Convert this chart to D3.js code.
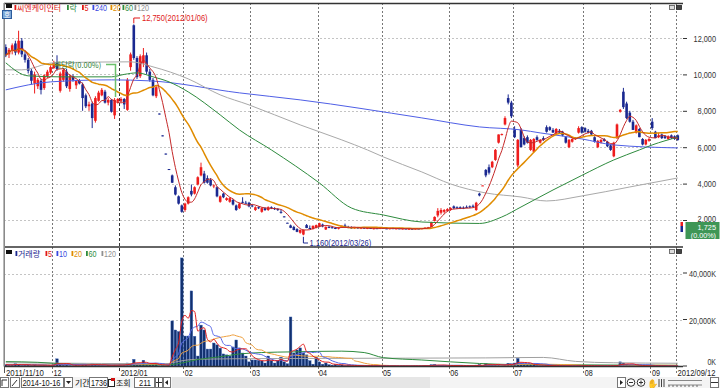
<!DOCTYPE html>
<html>
<head>
<meta charset="utf-8">
<script src="https://cdn.jsdelivr.net/npm/d3@7/dist/d3.min.js"></script>
<style>
  body { margin: 0; background: #fff; }
  text { font-family: "Liberation Sans", "DejaVu Sans", sans-serif; }
  text.kr { font-family: "Noto Sans CJK KR", sans-serif; }
</style>
</head>
<body>
<div id="chart"></div>
<script>
///////////////////////////////////////////////////////////////////////////
////////////////////////////////// Data ///////////////////////////////////
// daily candles [open, high, low, close], 2011/11/10 .. 2012/09/12
var candles = [
  [11500,11650,10950,11050],[11100,11450,10900,11350],[11300,11700,11100,11600],[11700,11850,11050,11200],
  [11200,12400,11100,11850],[11850,12000,10950,11100],[11100,11300,10650,10800],[10800,10900,10050,10200],
  [10200,10300,9450,9650],[9500,10150,8950,10000],[9350,9800,9200,9700],[9650,9750,8900,9150],
  [9250,10000,9150,9950],[9900,10250,9800,10150],[10100,10500,10000,10400],
  [10350,10750,10300,10600],[10650,11050,10200,10300],[9100,10150,9000,10050],[9700,10350,9600,10250],
  [10150,10300,9250,9350],[9200,10000,9050,9900],[9900,10000,9600,9700],[9400,9700,9200,9650],
  [9650,9750,9450,9500],[9450,9550,8000,8700],[8850,8950,8150,8250],[8250,8500,8000,8350],
  [8400,8500,7050,7600],[7450,8800,7350,8700],[8550,9100,8500,9000],[8850,9250,8800,9150],
  [9050,9150,8400,8450],[8450,8700,8300,8600],[8600,8650,7900,7950],[7750,8700,7550,8600],
  [8500,8700,8400,8650],
  [8550,8750,8400,8650],[8650,8700,8100,8350],[8050,9800,8000,9700],[10400,11200,10200,11100],
  [12700,12750,10800,10900],[10900,11000,9750,9850],[9900,11100,9800,11000],[10600,11450,10400,11050],
  [11050,11200,10000,10150],[10150,10300,9600,9700],[9700,9800,8800,8850],[8800,9400,8700,9300],
  [7850,7850,7800,7800],[6650,6650,6600,6600],[5650,5650,5600,5600],[4800,4800,4750,4750],
  [4450,4500,4030,4050],[3800,3900,3350,3400],[3300,3350,2850,2900],[2800,2850,2400,2450],
  [2550,2950,2450,2900],[2900,3300,2850,3250],[3600,3950,3300,3400],[3450,3850,3400,3800],
  [3950,4400,3900,4350],[4450,5150,4400,4900],[4550,4700,4000,4050],[4300,4450,4000,4050],
  [4200,4300,3850,3900],[3850,3950,3750,3900],[3800,3850,3250,3300],[3000,3350,2950,3300],
  [3450,3500,3200,3250],[3100,3250,3050,3200],[3000,3250,2950,3200],[3100,3150,2800,2850],
  [2800,2850,2500,2550],[2650,2950,2600,2900],[3000,3250,2900,2950],[2950,3050,2900,2940],
  [2950,3000,2700,2750],
  [2800,2850,2700,2750],[2550,2750,2500,2700],[2700,2750,2600,2650],[2450,2700,2400,2650],
  [2650,2700,2500,2550],[2550,2750,2500,2700],[2700,2750,2600,2650],[2650,2700,2550,2600],
  [2600,2650,2500,2550],[2450,2550,2350,2400],[2200,2200,2150,2170],[1850,1850,1830,1840],
  [1700,1750,1550,1570],[1620,1680,1430,1450],[1500,1550,1330,1350],[1300,1480,1250,1450],
  [1200,1480,1160,1450],[1720,1780,1550,1560],[1560,1700,1500,1520],[1500,1700,1480,1680],
  [1560,1750,1540,1720],
  [1620,1850,1600,1820],[1750,1800,1600,1650],[1480,1650,1450,1620],[1620,1680,1550,1600],
  [1600,1650,1540,1560],[1560,1620,1500,1520],[1520,1600,1480,1580],[1580,1700,1560,1680],
  [1700,1800,1600,1620],[1620,1680,1550,1600],[1600,1650,1520,1540],[1540,1620,1520,1600],
  [1600,1620,1520,1540],[1540,1600,1500,1580],[1580,1620,1520,1530],[1530,1580,1500,1560],
  [1560,1600,1510,1520],[1520,1560,1480,1550],[1550,1600,1520,1530],[1530,1580,1500,1570],
  [1570,1600,1520,1540],[1540,1580,1500,1520],[1520,1560,1480,1550],[1550,1580,1510,1520],
  [1520,1560,1490,1540],[1540,1570,1500,1510],[1510,1550,1480,1530],[1530,1560,1500,1510],
  [1510,1540,1470,1520],[1520,1560,1490,1500],[1500,1540,1470,1530],[1530,1560,1500,1510],
  [1510,1560,1490,1550],[1550,1600,1520,1580],[1550,1620,1530,1600],[1620,1900,1600,1880],
  [1950,2200,1920,2170],[2250,2650,2150,2500],[2400,2650,2300,2550],[2450,2600,2350,2550],
  [2500,2650,2450,2600],
  [2550,2700,2500,2650],[2750,2800,2600,2650],[2700,2750,2600,2650],[2700,2750,2600,2620],
  [2680,2750,2600,2650],[2720,2800,2650,2680],[2750,2800,2650,2700],[2780,2850,2700,2730],
  [2550,3000,2500,2950],[3450,3500,3300,3350],[3880,3900,3880,3900],[4750,4800,4350,4450],
  [4900,5050,4500,4600],[4900,5250,4850,5200],[5300,5900,5250,5850],[6250,6700,6200,6700],
  [6700,6750,6650,6720],[7250,7700,7200,7600],[8700,8900,8350,8450],[8450,8550,7600,7700],
  [7000,7150,6500,6550],[5000,6450,4900,6400],[6950,7050,6000,6000],[6500,6600,6100,6150],
  [6550,6650,6200,6250],[5850,6450,5800,6400],[5750,6500,5700,6450],[6550,6650,6350,6400],
  [6250,6450,6200,6400],[6500,6600,6350,6400],[7100,7200,6800,6850],[7100,7150,6900,6950],
  [6950,7050,6800,6800],[6750,7050,6700,7000],[6900,7000,6750,6800],[6850,6900,6600,6650],
  [6550,6600,6200,6250],[6000,6450,5950,6400],[6300,6500,6250,6450],[6450,6550,6400,6500],
  [6800,7150,6750,7050],[7100,7150,6750,6800],
  [7050,7100,6800,6850],[6900,7000,6750,6800],[6900,6950,6650,6700],[6550,6600,6250,6300],
  [6000,6400,5950,6350],[6250,6450,6200,6400],[6450,6500,6300,6350],[6300,6350,6000,6050],
  [6100,6150,5800,5850],[5500,6300,5450,6250],[6500,7300,6450,7250],[7950,8100,7900,8050],
  [9050,9260,8100,8200],[8400,8500,7550,7600],[7900,8000,7350,7400],[7400,7500,6950,6950],
  [6800,7250,6750,7200],[7000,7050,6550,6550],[6450,6500,6100,6150],[6150,6450,6100,6400],
  [6350,6500,6300,6450],[7400,7600,6950,7050],[6850,6900,6500,6500],[6550,6800,6500,6650],
  [6700,6750,6450,6500],[6600,6650,6450,6500],[6450,6650,6400,6600],[6650,6700,6450,6500],
  [6600,6650,6400,6450],[6650,6700,6350,6400]
];
// daily volume, thousands of shares
var volumes = [
  800,600,700,1200,900,500,600,700,500,800,400,500,600,400,500,
  900,3300,700,600,800,500,400,600,500,900,700,500,1200,800,600,500,400,600,500,700,600,
  600,700,1500,1400,3100,1200,1000,2700,900,800,1000,1200,300,400,300,500,19600,15700,15000,46700,
  13100,13100,32500,13000,4500,17800,15700,7500,7500,10100,9300,7900,5400,5000,4500,8400,11400,8000,5800,4500,2000,
  2800,2800,2600,2400,1500,4500,2500,1500,2500,4000,2000,1200,21300,5800,7100,8000,5800,5000,2500,1000,4000,
  2000,1000,1500,800,600,900,500,700,400,500,400,300,400,300,300,400,300,250,300,250,
  300,250,200,300,250,200,300,250,200,300,350,250,300,400,300,800,900,600,500,400,350,
  400,500,400,300,350,300,400,350,600,900,200,1200,900,700,900,800,300,600,1400,1200,
  1500,3500,1500,1000,800,900,700,500,400,400,500,400,300,300,300,400,300,300,200,300,500,400,
  400,300,300,300,400,300,300,300,400,500,400,2000,1500,1000,600,500,400,400,300,300,300,400,300,300,250,250,200,250,200,200
];
// long moving averages: [day index, value]
var ma60 = [[0,10635],[7,9920],[17,9865],[33,9865],[37,10000],[41,10085],[46,9865],[51,9590],[57,9040],[67,7775],[73,6950],
  [83,5850],[98,4035],[108,2660],[118,2275],[130,1890],[148,1810],[155,2165],[161,2715],[171,3650],[180,4450],[190,5300],
  [198,5850],[202,6125],[210,6550]];
var ma120 = [[0,10250],[5,10250],[15,10635],[39,10690],[46,10415],[57,9755],[67,8875],[76,8325],[92,7225],[105,6400],
  [113,5850],[118,5465],[130,4640],[139,3980],[150,3485],[161,3265],[169,3045],[180,3320],[195,3815],[210,4310]];
var ma240 = [[0,9150],[14,9590],[33,9700],[45,9645],[73,8985],[92,8600],[130,7610],[148,7115],[161,6950],[167,6785],
  [180,6455],[190,6125],[210,5960]];
var volMa60 = [[0,2100],[10,1800],[20,1000],[35,700],[50,650],[55,1500],[60,3000],[67,4200],[73,5400],[80,6000],[90,6300],
  [105,6600],[112,6000],[118,3800],[130,2800],[148,1300],[160,800],[180,700],[210,500]];
var volMa120 = [[0,1600],[30,1300],[50,1200],[54,2200],[58,3000],[70,3300],[100,3500],[150,3700],[168,3900],[178,2200],
  [190,1600],[210,1400]];

var tickIdx = [0, 15, 36, 56, 77, 98, 118, 139, 159, 181, 202, 210];
var tickLabels = ["2011/11/10", "12", "2012/01", "02", "03", "04", "05", "06", "07", "08", "09", "2012/09/12"];
var priceTicks = [2000, 4000, 6000, 8000, 10000, 12000];
var volTicks = [0, 20000, 40000];

///////////////////////////////////////////////////////////////////////////
//////////////////////////////// Set up ///////////////////////////////////
var width = 720, height = 388;
var plotL = 4, plotR = 683, plotTop = 3, sep = 247, bot = 366.5;

var svg = d3.select("#chart").append("svg")
  .attr("width", width).attr("height", height)
  .style("display", "block");

var x = d3.scaleLinear().domain([0, 210]).range([4, 676]);
var yP = d3.scaleLinear().domain([2000, 12000]).range([220, 38]);
var yV = d3.scaleLinear().domain([0, 40000]).range([bot, 273.5]);

var UP = "#ee1c1c", DOWN = "#1a2890";

function movingAvg(vals, n) {
  return vals.map(function(v, i) {
    return d3.mean(vals.slice(Math.max(0, i - n + 1), i + 1));
  });
}
var closes = candles.map(function(d) { return d[3]; });
var ma5 = movingAvg(closes, 5).map(function(v, i) { return [i, v]; });
var ma20 = movingAvg(closes, 20).map(function(v, i) { return [i, v]; });
var vma5 = movingAvg(volumes, 5).map(function(v, i) { return [i, v]; });
var vma10 = movingAvg(volumes, 10).map(function(v, i) { return [i, v]; });
var vma20 = movingAvg(volumes, 20).map(function(v, i) { return [i, v]; });

// narrow bitmap-like digits: squeeze each label to the width the reference uses
var charW = { ",": 2.5, "/": 3, "(": 2.6, ")": 2.6, ".": 2, "%": 6, "K": 4.6, "-": 3, " ": 2.5 };
function estW(s) { return d3.sum(s.split(""), function(c) { return charW[c] !== undefined ? charW[c] : 4; }); }

var defs = svg.append("defs");
defs.append("clipPath").attr("id", "clipP").append("rect")
  .attr("x", plotL).attr("y", plotTop).attr("width", plotR - plotL).attr("height", sep - plotTop);
defs.append("clipPath").attr("id", "clipV").append("rect")
  .attr("x", plotL).attr("y", sep).attr("width", plotR - plotL).attr("height", bot - sep);

///////////////////////////////////////////////////////////////////////////
//////////////////////////////// Grid /////////////////////////////////////
svg.append("g").selectAll("line").data(priceTicks).enter().append("line")
  .attr("x1", plotL).attr("x2", plotR)
  .attr("y1", function(d) { return Math.round(yP(d)) + 0.5; })
  .attr("y2", function(d) { return Math.round(yP(d)) + 0.5; })
  .attr("stroke", "#c4c4c4").attr("stroke-dasharray", "2,2");
svg.append("g").selectAll("line").data(volTicks.slice(1)).enter().append("line")
  .attr("x1", plotL).attr("x2", plotR)
  .attr("y1", function(d) { return Math.round(yV(d)) + 0.5; })
  .attr("y2", function(d) { return Math.round(yV(d)) + 0.5; })
  .attr("stroke", "#c4c4c4").attr("stroke-dasharray", "2,2");

svg.append("g").selectAll("line").data(tickIdx.slice(1)).enter().append("line")
  .attr("x1", function(d) { return Math.round(x(d)) + 0.5; })
  .attr("x2", function(d) { return Math.round(x(d)) + 0.5; })
  .attr("y1", plotTop).attr("y2", 373)
  .attr("stroke", function(d) { return d === 36 ? "#333" : "#777"; })
  .attr("stroke-dasharray", function(d) { return d === 36 ? "3,2" : "2,2"; });

///////////////////////////////////////////////////////////////////////////
//////////////////////////////// Candles //////////////////////////////////
var cg = svg.append("g").attr("clip-path", "url(#clipP)");
var cnd = cg.selectAll("g.c").data(candles).enter().append("g").attr("class", "c");
cnd.append("line")
  .attr("x1", function(d, i) { return x(i) + 1.8; })
  .attr("x2", function(d, i) { return x(i) + 1.8; })
  .attr("y1", function(d) { return yP(d[1]); })
  .attr("y2", function(d) { return yP(d[2]); })
  .attr("stroke", function(d) { return d[3] >= d[0] ? UP : DOWN; })
  .attr("stroke-width", 1);
cnd.append("rect")
  .attr("x", function(d, i) { return x(i) + 0.5; })
  .attr("width", 2.6)
  .attr("y", function(d) { return yP(Math.max(d[0], d[3])); })
  .attr("height", function(d) { return Math.max(1, Math.abs(yP(d[0]) - yP(d[3]))); })
  .attr("fill", function(d) { return d[3] >= d[0] ? UP : DOWN; });

var lineS = d3.line().curve(d3.curveMonotoneX).x(function(d) { return x(d[0]) + 1.8; }).y(function(d) { return yP(d[1]); });
cg.append("path").attr("d", lineS(ma240)).attr("fill", "none").attr("stroke", "#4f5fe6").attr("stroke-width", 1);
cg.append("path").attr("d", lineS(ma120)).attr("fill", "none").attr("stroke", "#a9a9a9").attr("stroke-width", 1);
cg.append("path").attr("d", lineS(ma60)).attr("fill", "none").attr("stroke", "#2e8b3e").attr("stroke-width", 1);
cg.append("path").attr("d", lineS(ma20)).attr("fill", "none").attr("stroke", "#e08c00").attr("stroke-width", 1.5);
cg.append("path").attr("d", lineS(ma5)).attr("fill", "none").attr("stroke", "#c42828").attr("stroke-width", 1);

///////////////////////////////////////////////////////////////////////////
//////////////////////////////// Volume ///////////////////////////////////
var vg = svg.append("g").attr("clip-path", "url(#clipV)");
vg.selectAll("rect").data(volumes).enter().append("rect")
  .attr("x", function(d, i) { return x(i) + 0.5; })
  .attr("width", 2.6)
  .attr("y", function(d) { return yV(d); })
  .attr("height", function(d) { return Math.max(1, bot - yV(d)); })
  .attr("fill", "#12306e").attr("stroke", "#3a64b8").attr("stroke-width", 0.4);
var lineV = d3.line().curve(d3.curveMonotoneX).x(function(d) { return x(d[0]) + 1.8; }).y(function(d) { return yV(d[1]); });
vg.append("path").attr("d", lineV(volMa120)).attr("fill", "none").attr("stroke", "#a0a0a0");
vg.append("path").attr("d", lineV(volMa60)).attr("fill", "none").attr("stroke", "#2e8b3e");
vg.append("path").attr("d", lineV(vma20)).attr("fill", "none").attr("stroke", "#eea040");
vg.append("path").attr("d", lineV(vma10)).attr("fill", "none").attr("stroke", "#5868e6");
vg.append("path").attr("d", lineV(vma5)).attr("fill", "none").attr("stroke", "#e02020");

///////////////////////////////////////////////////////////////////////////
//////////////////////////////// Frame ////////////////////////////////////
svg.append("line").attr("x1", plotL).attr("x2", plotR).attr("y1", 3.5).attr("y2", 3.5).attr("stroke", "#333").attr("stroke-width", 1.5);
svg.append("line").attr("x1", plotL).attr("x2", plotR).attr("y1", sep).attr("y2", sep).attr("stroke", "#333").attr("stroke-width", 1.3);
svg.append("line").attr("x1", plotL).attr("x2", plotR).attr("y1", bot).attr("y2", bot).attr("stroke", "#333").attr("stroke-width", 1.3);
svg.append("line").attr("x1", 4.2).attr("x2", 4.2).attr("y1", 3).attr("y2", bot).attr("stroke", "#8a8a8a").attr("stroke-width", 1.6);

// right axes
var ra = svg.append("g");
ra.selectAll("line.tp").data(priceTicks).enter().append("line")
  .attr("x1", 683).attr("x2", 687)
  .attr("y1", function(d) { return yP(d) + 0.5; }).attr("y2", function(d) { return yP(d) + 0.5; })
  .attr("stroke", "#333");
ra.selectAll("text.tp").data(priceTicks).enter().append("text")
  .attr("x", 716).attr("y", function(d) { return yP(d) + (d === 2000 ? 1.5 : 3.5); })
  .attr("text-anchor", "end").attr("font-size", 9).attr("fill", "#333")
  .text(function(d) { return d3.format(",")(d); });
ra.selectAll("line.tv").data(volTicks).enter().append("line")
  .attr("x1", 683).attr("x2", 687)
  .attr("y1", function(d) { return yV(d) - 0.5; }).attr("y2", function(d) { return yV(d) - 0.5; })
  .attr("stroke", "#333");
ra.selectAll("text.tv").data(volTicks).enter().append("text")
  .attr("x", 716).attr("y", function(d) { return yV(d) + (d === 0 ? -1.5 : 3.5); })
  .attr("text-anchor", "end").attr("font-size", 9).attr("fill", "#333")
  .text(function(d) { return d3.format(",")(d) + "K"; });

// current price box
svg.append("rect").attr("x", 680.5).attr("y", 222).attr("width", 2.5).attr("height", 4).attr("fill", UP);
svg.append("rect").attr("x", 680.5).attr("y", 226).attr("width", 2.5).attr("height", 6).attr("fill", DOWN);
svg.append("rect").attr("x", 685.5).attr("y", 222).attr("width", 34).attr("height", 17).attr("fill", "#3e9656");
svg.append("text").attr("x", 716).attr("y", 229.5).attr("text-anchor", "end").attr("font-size", 7.5).attr("fill", "#fff").text("1,725");
svg.append("text").attr("x", 716).attr("y", 238).attr("text-anchor", "end").attr("font-size", 7.5).attr("fill", "#fff").text("(0.00%)");

// x axis labels
svg.append("g").selectAll("text").data(tickIdx).enter().append("text")
  .attr("x", function(d, i) { return x(d) + (i === 0 ? 2 : 1.5); })
  .attr("y", 375.5).attr("font-size", 9.5).attr("fill", "#222")
  .text(function(d, i) { return tickLabels[i]; });
svg.append("line").attr("x1", 4.5).attr("x2", 4.5).attr("y1", bot).attr("y2", 373).attr("stroke", "#555");

///////////////////////////////////////////////////////////////////////////
/////////////////////////////// Legends ///////////////////////////////////
function legend(y, items) {
  var g = svg.append("g");
  g.append("rect").attr("x", 6).attr("y", y - 4.5).attr("width", 6).attr("height", 4).attr("fill", "#111");
  items.forEach(function(it) {
    g.append("rect").attr("x", it.x - 2.5).attr("y", y - 3.5).attr("width", 1.8).attr("height", 5).attr("fill", it.c);
    g.append("text").attr("class", it.kr ? "kr" : null).attr("x", it.x).attr("y", y + 2.5)
      .attr("font-size", it.kr ? 8 : 9).attr("fill", it.c).text(it.t);
  });
}
legend(8.5, [
  { t: "씨엔케이인터", c: "#e01818", x: 17, kr: true },
  { t: "락", c: "#2e8b3e", x: 69.5, kr: true },
  { t: "5", c: "#e01818", x: 84.5 },
  { t: "240", c: "#3848e0", x: 95 },
  { t: "20", c: "#e08c00", x: 113 },
  { t: "60", c: "#2e8b3e", x: 125 },
  { t: "120", c: "#909090", x: 137 }
]);
legend(254.5, [
  { t: "거래량", c: "#1a2890", x: 18, kr: true },
  { t: "5", c: "#e01818", x: 48 },
  { t: "10", c: "#3848e0", x: 59 },
  { t: "20", c: "#e08c00", x: 74 },
  { t: "60", c: "#2e8b3e", x: 88.5 },
  { t: "120", c: "#909090", x: 104 }
]);

// panel icons
[5, 249].forEach(function(yy) {
  svg.append("rect").attr("x", 669.5).attr("y", yy + 0.5).attr("width", 5).attr("height", 4).attr("fill", "#ddd").attr("stroke", "#555").attr("stroke-width", 0.8);
  svg.append("rect").attr("x", 676.5).attr("y", yy + 0.5).attr("width", 5).attr("height", 4).attr("fill", "#444").attr("stroke", "#222").attr("stroke-width", 0.8);
});
svg.append("rect").attr("x", 2.5).attr("y", 10.5).attr("width", 9).attr("height", 8).attr("fill", "#7aa6d6").attr("stroke", "#2c5c9c");
svg.append("text").attr("class", "kr").attr("x", 7).attr("y", 17).attr("text-anchor", "middle").attr("font-size", 6.5).attr("fill", "#fff").text("호");

///////////////////////////////////////////////////////////////////////////
///////////////////////////// Annotations /////////////////////////////////
var hiI = 40, loI = 93;
svg.append("path")
  .attr("d", "M" + (x(hiI) + 1.8) + "," + (yP(candles[hiI][1]) - 1) + "V18H140")
  .attr("fill", "none").attr("stroke", "#e01818");
svg.append("text").attr("x", 142).attr("y", 21).attr("font-size", 9).attr("fill", "#e01818").text("12,750(2012/01/06)");
svg.append("path")
  .attr("d", "M" + (x(loI) + 1.8) + "," + (yP(candles[loI][2]) + 1.5) + "V243H308")
  .attr("fill", "none").attr("stroke", "#1a2890");
svg.append("text").attr("x", 309.5).attr("y", 245.5).attr("font-size", 9).attr("fill", "#1a2890").text("1,160(2012/03/26)");
svg.append("path").attr("d", "M106,64.5H115.5V97").attr("fill", "none").attr("stroke", "#6cc06c").attr("stroke-width", 1.5);
svg.append("text").attr("class", "kr").attr("x", 54).attr("y", 67.5).attr("font-size", 7.5).attr("fill", "#2e7d32").text("배당락(0.00%)");

///////////////////////////////////////////////////////////////////////////
/////////////////////////////// Toolbar ///////////////////////////////////
var tb = svg.append("g");
tb.append("rect").attr("x", 0).attr("y", 377).attr("width", 720).attr("height", 11).attr("fill", "#f4f4f4");
tb.append("rect").attr("x", 172).attr("y", 377).attr("width", 258).attr("height", 11).attr("fill", "#e6e6e6");
function box(x0, w, txt, ic) {
  tb.append("rect").attr("x", x0 + 0.5).attr("y", 377.5).attr("width", w).attr("height", 10).attr("fill", "#fff").attr("stroke", "#777");
  if (txt) tb.append("text").attr("class", ic ? "ic" : null).attr("x", x0 + 2).attr("y", 386).attr("font-size", 9).attr("fill", "#111").text(txt);
}
box(0, 8); box(10, 9);
tb.append("path").attr("d", "M2,386V380H7M12,386L17,380").attr("stroke", "#333").attr("fill", "none");
box(21, 42);
tb.append("text").attr("x", 22.5).attr("y", 386).attr("font-size", 8.5).attr("fill", "#111").text("2014-10-16");
box(64, 8);
tb.append("path").attr("d", "M66,381H71L68.5,384Z").attr("fill", "#222");
tb.append("text").attr("class", "kr").attr("x", 75).attr("y", 386).attr("font-size", 8).attr("fill", "#111").text("기간");
box(89, 18, "1736");
tb.append("rect").attr("x", 108.5).attr("y", 379.5).attr("width", 6).attr("height", 7).attr("fill", "#fff").attr("stroke", "#222");
tb.append("rect").attr("x", 111).attr("y", 378).attr("width", 4).attr("height", 3).attr("fill", "#d01010");
tb.append("text").attr("class", "kr").attr("x", 116).attr("y", 386).attr("font-size", 8).attr("fill", "#111").text("조회");
box(134, 20);
tb.append("text").attr("x", 151).attr("y", 386).attr("text-anchor", "end").attr("font-size", 9).attr("fill", "#111").text("211");
box(155, 7);
tb.append("path").attr("d", "M156,382.5H162M158.5,378V387").attr("stroke", "#333");
box(163, 7);
tb.append("path").attr("d", "M168,380V385L165,382.5Z").attr("fill", "#222");
box(617, 8);
tb.append("path").attr("d", "M620,380V385L623,382.5Z").attr("fill", "#222");
[631, 641].forEach(function(cx, k) {
  tb.append("circle").attr("cx", cx).attr("cy", 382.5).attr("r", 3.8).attr("fill", "#fff").attr("stroke", "#333");
  tb.append("path").attr("d", "M" + (cx - 2) + ",382.5H" + (cx + 2) + (k ? "M" + cx + ",380.5V384.5" : "")).attr("stroke", "#333");
});
tb.append("text").attr("class", "ic").attr("x", 647).attr("y", 387).attr("font-size", 9).attr("fill", "#333").text("✋");
tb.append("path").attr("d", "M659,379V387M661.5,379V387M664,379V387").attr("stroke", "#444");
tb.append("path").attr("d", "M668,380.5H702M668,385H702").attr("stroke", "#888");
tb.selectAll("line.sl").data(d3.range(8)).enter().append("line")
  .attr("x1", function(d) { return 669 + d * 4; }).attr("x2", function(d) { return 669 + d * 4; })
  .attr("y1", 385).attr("y2", 387).attr("stroke", "#666");
box(710, 8);
tb.append("path").attr("d", "M711,382.5H718").attr("stroke", "#333");

// squeeze latin/digit labels horizontally to the narrow widths of the reference font
svg.selectAll("text:not(.kr):not(.ic)").each(function() {
  var t = d3.select(this), nat = this.getComputedTextLength(), w = estW(this.textContent);
  var x0 = +t.attr("x"), y0 = +t.attr("y");
  t.attr("x", 0).attr("y", 0)
    .attr("transform", "translate(" + x0 + "," + y0 + ") scale(" + (w / nat).toFixed(3) + ",1)");
});
</script>
</body>
</html>
